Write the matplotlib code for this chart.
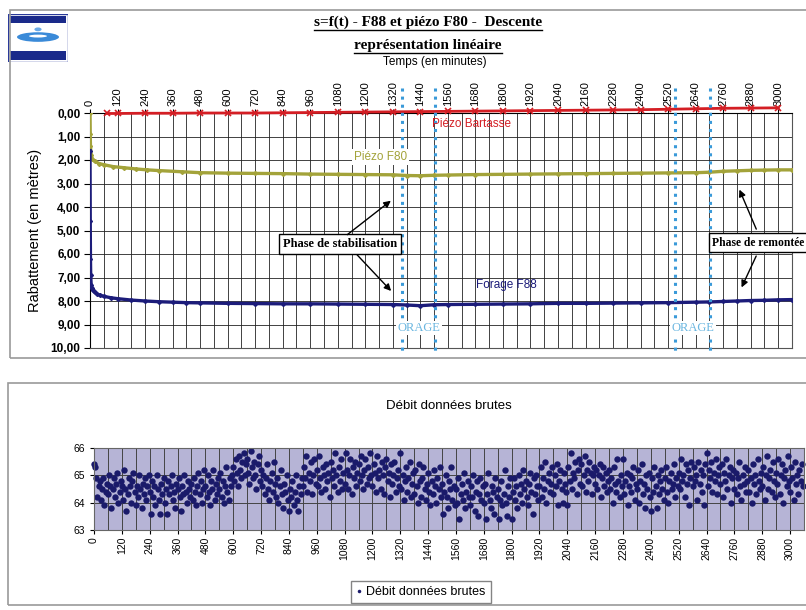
import numpy as np
import matplotlib
matplotlib.use("Agg")
import matplotlib.pyplot as plt
from matplotlib.patches import Rectangle, Ellipse
from matplotlib.lines import Line2D
from matplotlib.ticker import FuncFormatter, MultipleLocator

plt.rcParams['font.family'] = ['Liberation Sans', 'DejaVu Sans']

# ---- top chart : drawdown vs time (minutes) ----
t_f88 = [0, 1, 2, 3, 5, 8, 12, 20, 30, 45, 60, 90, 120, 180, 240, 300, 360, 420,
         480, 600, 720, 840, 960, 1080, 1200, 1320, 1380, 1440, 1500, 1560, 1680,
         1800, 1920, 2040, 2160, 2280, 2400, 2520, 2640, 2700, 2760, 2820, 2880,
         2940, 3000, 3060]
s_f88 = [1.6, 4.6, 6.2, 6.9, 7.3, 7.45, 7.55, 7.63, 7.7, 7.76, 7.8, 7.86, 7.9,
         7.96, 8.0, 8.03, 8.05, 8.07, 8.08, 8.1, 8.11, 8.12, 8.12, 8.13, 8.14,
         8.15, 8.17, 8.2, 8.16, 8.15, 8.14, 8.13, 8.12, 8.1, 8.1, 8.09, 8.08,
         8.07, 8.05, 8.04, 8.02, 8.0, 7.98, 7.97, 7.95, 7.94]

t_f80 = [0, 1, 2, 5, 10, 20, 40, 60, 100, 150, 200, 250, 300, 400, 480, 600,
         720, 840, 960, 1080, 1200, 1320, 1380, 1440, 1500, 1560, 1680, 1800,
         1920, 2040, 2160, 2280, 2400, 2520, 2640, 2700, 2760, 2820, 2880, 2940,
         3000, 3060]
s_f80 = [0.0, 0.9, 1.4, 1.8, 1.95, 2.05, 2.15, 2.2, 2.28, 2.33, 2.38, 2.42, 2.45,
         2.5, 2.54, 2.56, 2.57, 2.58, 2.6, 2.61, 2.62, 2.63, 2.66, 2.67, 2.65,
         2.64, 2.62, 2.61, 2.6, 2.59, 2.58, 2.57, 2.56, 2.55, 2.54, 2.52, 2.48,
         2.46, 2.44, 2.43, 2.42, 2.42]

t_bart = [75, 120, 240, 360, 480, 600, 720, 840, 960, 1080, 1200, 1320, 1440,
          1560, 1680, 1800, 1920, 2040, 2160, 2280, 2400, 2520, 2640, 2760,
          2880, 3000]
s_bart = [0.02, 0.02, 0.01, 0.01, 0.0, 0.0, 0.0, -0.01, -0.02, -0.03, -0.04,
          -0.05, -0.06, -0.07, -0.08, -0.09, -0.1, -0.11, -0.12, -0.13, -0.14,
          -0.16, -0.18, -0.2, -0.21, -0.22]

orage_lines = [1361, 1505, 2551, 2704]
orage_centres = [1435, 2628]

# ---- bottom chart : raw flow, one reading every 5 minutes ----
step_minutes = 5
debit_0000 = [65.4, 65.3, 64.9, 64.2, 64.6, 64.8, 64.1, 64.5, 64.9, 63.9, 64.4, 64.7,
              64.3, 65.0, 64.6, 63.8, 64.5, 64.9, 64.2, 64.7, 65.1, 64.0, 64.4, 64.8,
              64.6, 64.1, 65.2, 64.5, 63.7, 64.3, 64.9, 64.6, 64.0, 64.8, 65.1, 64.4,
              63.9, 64.6, 64.2, 65.0, 64.5, 63.8, 64.7, 64.3, 64.9, 64.1, 64.6, 65.0,
              64.4, 63.6, 64.8, 64.2, 64.6, 63.9, 65.0, 64.5, 64.1, 63.6, 64.7, 64.3,
              64.9, 64.0, 64.5, 63.6, 64.8, 64.3, 64.6, 65.0, 64.1, 64.4, 63.8, 64.7,
              64.5, 64.9, 64.2, 63.7, 64.6, 64.3, 65.0, 64.4, 64.0, 64.8, 64.5, 64.2,
              64.7, 64.1, 64.9, 64.4, 63.9, 64.6, 65.1, 64.3, 64.8, 64.0, 64.5, 65.2,
              64.6, 64.2, 65.0, 64.4, 63.9, 64.8, 64.5, 65.2, 64.1, 64.7, 64.3, 64.9,
              64.5, 65.1, 64.2, 64.8, 64.0, 64.6, 65.3, 64.4, 64.1, 64.9, 64.6, 65.0]
debit_0600 = [65.3, 64.8, 65.6, 65.1, 64.6, 65.7, 65.2, 64.9, 65.5, 65.8, 65.0, 65.4,
              65.6, 65.1, 64.7, 65.9, 65.3, 64.9, 65.5, 65.0, 64.5, 65.4, 65.7, 64.8,
              65.2, 64.6, 65.0, 64.3, 64.9, 65.4, 64.5, 64.1, 64.8, 65.1, 64.4, 65.5,
              64.7, 64.2, 64.9, 64.0, 64.6, 65.2, 64.3, 63.8, 64.7, 64.4, 65.0, 64.1,
              63.7, 64.5, 64.2, 64.8, 63.9, 64.4, 65.0, 64.1, 63.7, 64.6, 64.3, 64.9,
              64.6, 65.3, 64.9, 65.7, 64.4, 65.1, 64.8, 65.5, 64.3, 65.0, 65.6, 64.7,
              65.2, 64.6, 65.7, 64.9, 64.4, 65.3, 65.0, 64.5, 65.4, 64.8, 65.1, 64.2,
              65.5, 64.9, 65.2, 64.6, 65.8, 65.0, 64.4, 65.3, 64.8, 65.6, 64.5, 65.1,
              64.7, 65.8, 65.2, 64.5, 65.0, 65.6, 64.3, 65.3, 64.9, 65.5, 64.6, 65.1,
              65.4, 64.8, 65.7, 65.0, 64.5, 65.2, 65.6, 64.7, 65.3, 64.9, 65.8, 65.0]
debit_1200 = [64.6, 65.4, 65.1, 64.4, 65.7, 64.9, 65.2, 64.5, 65.5, 65.0, 64.3, 65.3,
              65.6, 64.8, 65.1, 64.2, 65.4, 64.7, 65.0, 65.5, 64.4, 64.9, 65.2, 64.6,
              65.8, 64.5, 65.0, 64.1, 64.8, 65.3, 64.4, 64.9, 65.5, 64.2, 64.7, 65.1,
              64.3, 65.2, 64.6, 64.0, 65.4, 64.8, 64.2, 64.9, 65.3, 64.5, 64.1, 64.7,
              65.1, 64.4, 63.9, 64.8, 64.3, 65.2, 64.6, 64.0, 64.9, 64.5, 65.3, 64.2,
              64.7, 63.6, 64.4, 65.0, 64.2, 63.8, 64.8, 64.5, 65.3, 64.1, 64.6, 63.9,
              64.5, 64.0, 64.9, 63.4, 64.3, 64.7, 64.1, 65.1, 63.8, 64.4, 64.8, 64.2,
              63.9, 64.6, 64.2, 65.0, 63.7, 64.4, 64.8, 63.5, 64.3, 64.9, 64.1, 64.6,
              64.0, 64.7, 63.4, 64.3, 65.1, 64.1, 63.8, 64.6, 64.4, 63.6, 64.9, 64.2,
              64.5, 63.4, 64.1, 64.8, 63.9, 64.3, 65.2, 64.0, 63.5, 64.6, 64.2, 64.9]
debit_1800 = [63.4, 64.4, 64.9, 64.1, 64.6, 63.8, 65.0, 64.3, 64.7, 64.0, 65.2, 64.5,
              64.8, 64.2, 63.9, 64.7, 65.1, 64.4, 63.6, 64.9, 64.3, 65.0, 64.6, 64.1,
              64.6, 65.3, 64.2, 64.9, 64.5, 65.5, 64.0, 64.8, 65.1, 64.4, 64.7, 65.3,
              64.3, 65.0, 64.6, 65.4, 63.9, 64.8, 65.2, 64.5, 64.0, 65.1, 64.7, 64.4,
              63.9, 65.3, 64.8, 65.8, 64.5, 65.1, 64.9, 65.5, 64.3, 65.2, 65.6, 64.7,
              65.4, 64.6, 65.0, 65.7, 64.4, 65.2, 64.8, 65.5, 65.1, 64.3, 65.0, 65.3,
              64.7, 65.2, 64.5, 65.0, 65.4, 64.2, 64.9, 65.3, 64.6, 65.1, 64.4, 64.8,
              65.2, 64.5, 64.9, 64.0, 65.3, 64.7, 64.4, 65.6, 64.8, 64.2, 65.0, 64.6,
              65.6, 64.3, 64.8, 65.1, 63.9, 64.6, 65.0, 64.4, 64.9, 65.3, 64.1, 64.7,
              64.5, 65.2, 64.0, 64.8, 65.4, 64.3, 64.7, 63.8, 65.0, 64.5, 65.1, 64.2]
debit_2400 = [63.7, 64.9, 64.4, 65.3, 64.6, 63.8, 65.0, 64.3, 64.8, 65.2, 64.5, 64.1,
              64.9, 65.3, 64.4, 64.0, 64.8, 65.1, 64.5, 64.7, 65.4, 64.2, 64.9, 64.6,
              65.1, 64.5, 65.6, 64.8, 65.0, 64.2, 65.4, 64.7, 65.2, 63.9, 64.9, 65.5,
              64.6, 65.3, 64.8, 65.0, 64.1, 65.5, 64.7, 65.2, 64.4, 65.0, 63.9, 65.4,
              65.8, 64.6, 65.2, 64.9, 65.5, 64.4, 65.1, 64.8, 65.6, 64.3, 65.0, 65.3,
              64.7, 65.4, 64.2, 65.1, 64.8, 65.6, 64.5, 65.0, 65.3, 64.0, 64.9, 65.2,
              64.5, 65.1, 64.3, 64.9, 65.5, 64.6, 64.1, 65.0, 64.7, 65.3, 64.4, 64.8,
              65.2, 64.4, 64.9, 64.0, 65.4, 64.7, 65.0, 64.3, 65.6, 64.8, 64.5, 65.1,
              64.6, 65.3, 64.1, 65.0, 65.7, 64.5, 64.9, 65.2, 64.4, 65.5, 64.8, 64.2,
              65.1, 64.7, 65.6, 64.3, 65.0, 65.4, 64.0, 64.9, 65.2, 64.6, 65.7, 64.8,
              64.4, 65.3, 64.9, 64.1, 65.5, 64.7, 65.0, 64.3, 65.2, 64.8, 65.4, 64.6]

debit = debit_0000 + debit_0600 + debit_1200 + debit_1800 + debit_2400
t_debit = np.arange(len(debit)) * step_minutes

W, H = 806, 610
fig = plt.figure(figsize=(W / 100, H / 100), dpi=100)


def fx(px):
    return px / W


def fy(py):
    return 1 - py / H


# chart frames
fig.add_artist(Rectangle((fx(10), fy(358)), fx(800), fy(10) - fy(358),
                         fill=False, ec='#9a9a9a', lw=1.2))
fig.add_artist(Rectangle((fx(8), fy(605)), fx(802), fy(383) - fy(605),
                         fill=False, ec='#9a9a9a', lw=1.2))

# logo (rough)
lg = fig.add_axes([fx(8), fy(62), fx(60), fy(14) - fy(62)])
lg.set_xlim(0, 1); lg.set_ylim(0, 1); lg.axis('off')
lg.add_patch(Rectangle((0, 0), 1, 1, fc='white', ec='#2a3a9a', lw=1))
lg.add_patch(Rectangle((0.03, 0.82), 0.94, 0.14, fc='#1a2a8a'))
lg.add_patch(Rectangle((0.03, 0.04), 0.94, 0.18, fc='#1a2a8a'))
lg.add_patch(Ellipse((0.5, 0.52), 0.7, 0.2, fc='#3a8ad8'))
lg.add_patch(Ellipse((0.5, 0.54), 0.3, 0.06, fc='white'))
lg.add_patch(Ellipse((0.5, 0.68), 0.12, 0.08, fc='#6aaae8'))

# ---------------- top chart ----------------
ax = fig.add_axes([fx(90), fy(348), fx(702), fy(113) - fy(348)])
ax.set_xlim(0, 3060)
ax.set_ylim(10, 0)
ax.xaxis.tick_top()
ax.xaxis.set_major_locator(MultipleLocator(120))
ax.xaxis.set_minor_locator(MultipleLocator(60))
ax.yaxis.set_major_locator(MultipleLocator(1))
ax.yaxis.set_major_formatter(FuncFormatter(lambda v, p: f"{v:.2f}".replace('.', ',')))
ax.tick_params(axis='x', which='major', labelsize=8, rotation=90, length=3, pad=2)
ax.tick_params(axis='x', which='minor', length=0)
ax.tick_params(axis='y', labelsize=8.5, length=4, pad=3)
for lab in ax.get_yticklabels():
    lab.set_fontweight('bold')
ax.grid(True, which='both', axis='x', color='#222222', lw=0.6)
ax.grid(True, which='major', axis='y', color='#222222', lw=0.6)
for sp in ax.spines.values():
    sp.set_color('#555555')
    sp.set_linewidth(0.8)
ax.spines['left'].set_color('black')
ax.spines['top'].set_color('black')

ax.plot(t_bart, s_bart, color='#d41e24', lw=2, marker='x', ms=4, mew=1.2,
        clip_on=False, zorder=4)
ax.plot(t_f80, s_f80, color='#a3a33a', lw=2.4, marker='D', ms=2, zorder=4)
ax.plot(t_f88, s_f88, color='#1c1c7a', lw=2.4, marker='D', ms=2, zorder=4)

for x in orage_lines:
    ax.plot([x, x], [-1.05, 10.15], color='#3a9ad9', lw=2.2, ls=':',
            clip_on=False, zorder=5)
for x in orage_centres:
    ax.text(x, 9.15, 'ORAGE', color='#6ab6e0', fontsize=9, family='Liberation Serif',
            ha='center', va='center', zorder=6,
            bbox=dict(fc='white', ec='none', pad=1))

ax.text(1491, 0.45, 'Piézo Bartasse', color='#d41e24', fontsize=8.5, va='center',
        zorder=6)
ax.text(1265, 1.87, 'Piézo F80', color='#a3a33a', fontsize=8.5, ha='center',
        va='center', zorder=6, bbox=dict(fc='white', ec='none', pad=1.5))
ax.text(1683, 7.3, 'Forage F88', color='#1c1c7a', fontsize=8.5, va='center', zorder=6)

box = dict(boxstyle='square,pad=0.3', fc='white', ec='black', lw=1)
arrow = dict(arrowstyle='-|>', color='black', lw=1, mutation_scale=10)
ax.text(1090, 5.57, 'Phase de stabilisation', fontsize=9, family='Liberation Serif',
        fontweight='bold', ha='center', va='center', bbox=box, zorder=7)
ax.annotate('', xy=(1321, 3.66), xytext=(1112, 5.25), arrowprops=arrow, zorder=7)
ax.annotate('', xy=(1321, 7.66), xytext=(1156, 5.95), arrowprops=arrow, zorder=7)

ax.text(2712, 5.53, 'Phase de remontée', fontsize=8.4, family='Liberation Serif',
        fontweight='bold', ha='left', va='center', bbox=box, zorder=7, clip_on=False)
ax.annotate('', xy=(2826, 3.15), xytext=(2909, 5.05), arrowprops=arrow, zorder=7)
ax.annotate('', xy=(2835, 7.53), xytext=(2909, 5.98), arrowprops=arrow, zorder=7)

ax.set_ylabel('Rabattement (en mètres)', fontsize=10.5, labelpad=6)

t1 = fig.text(fx(428), fy(22), 's=f(t) - F88 et piézo F80 -  Descente',
              family='Liberation Serif', fontweight='bold', fontsize=11,
              ha='center', va='center')
t2 = fig.text(fx(428), fy(45), 'représentation linéaire',
              family='Liberation Serif', fontweight='bold', fontsize=11,
              ha='center', va='center')
fig.text(fx(435), fy(62), 'Temps (en minutes)', fontsize=8.5, ha='center', va='center')

# ---------------- bottom chart ----------------
ax2 = fig.add_axes([fx(94), fy(530), fx(710), fy(448) - fy(530)])
ax2.set_facecolor('#b6b4d6')
ax2.set_xlim(0, 3060)
ax2.set_ylim(63, 66)
ax2.xaxis.set_major_locator(MultipleLocator(120))
ax2.xaxis.set_minor_locator(MultipleLocator(60))
ax2.yaxis.set_major_locator(MultipleLocator(1))
ax2.tick_params(axis='x', which='major', labelsize=7.5, rotation=90, length=3, pad=2)
ax2.tick_params(axis='x', which='minor', length=0)
ax2.tick_params(axis='y', labelsize=7.5, length=3)
ax2.grid(True, which='both', axis='x', color='#444444', lw=0.7)
ax2.grid(True, which='major', axis='y', color='#444444', lw=0.7)
ax2.set_axisbelow(True)
for sp in ax2.spines.values():
    sp.set_color('#666666')
ax2.plot(t_debit, debit, ls='none', marker='o', ms=4.6, mec='none',
         color='#1a1a6a', label='Débit données brutes', clip_on=False)
ax2.set_title('Débit données brutes', fontsize=9.5, pad=28)
fig.legend(loc='center', bbox_to_anchor=(fx(421), fy(592)), fontsize=9,
           handlelength=0.4, handletextpad=0.4, markerscale=0.55,
           fancybox=False, edgecolor='#666666', borderpad=0.4)

# underline the serif title lines
fig.canvas.draw()
rend = fig.canvas.get_renderer()
for tt in (t1, t2):
    bb = tt.get_window_extent(rend)
    fig.add_artist(Line2D([bb.x0 / W, bb.x1 / W], [(bb.y0 - 1) / H, (bb.y0 - 1) / H],
                          color='black', lw=1))

fig.savefig('out.png', dpi=100)
